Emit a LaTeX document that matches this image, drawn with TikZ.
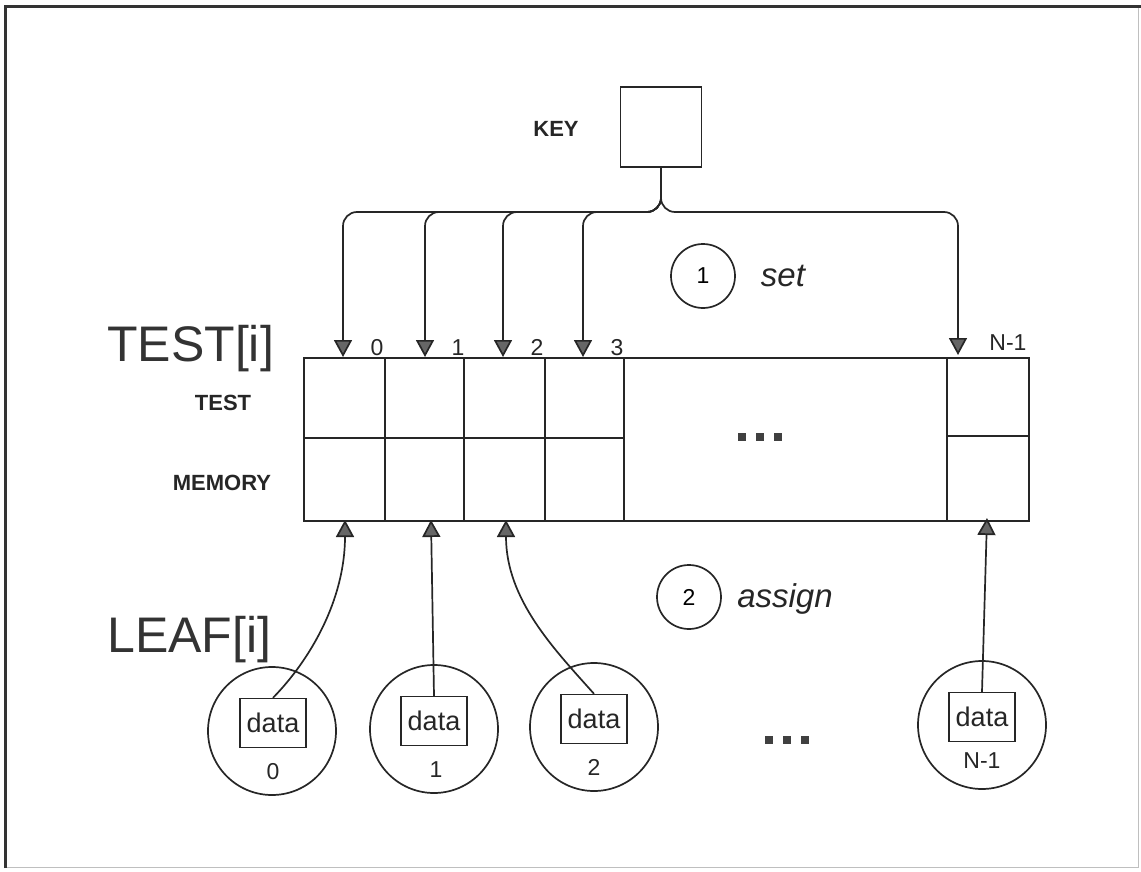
\documentclass[tikz,border=0pt]{standalone}
\usepackage{fontspec}
\setmainfont{Liberation Sans}
\usetikzlibrary{arrows.meta}
\begin{document}
\begin{tikzpicture}[x=1pt,y=-1pt,
  line/.style={line width=1.7pt, draw=black!85},
  arr/.style={line, -{Triangle[width=18pt,length=17pt,fill=black!60]}},
  lbl/.style={font=\fontsize{23}{27}\selectfont, inner sep=0pt, text=black!85},
  blbl/.style={lbl, font=\fontsize{22}{27}\selectfont\bfseries},
  big/.style={font=\fontsize{50}{56}\selectfont, inner sep=0pt, text=black!80},
  leaf/.style={circle, line, minimum size=128pt, inner sep=0pt},
  databox/.style={draw=black!85, line width=1.4pt, minimum width=66pt, minimum height=49pt, inner sep=0pt, font=\fontsize{27}{30}\selectfont, text=black!85},
  numcirc/.style={circle, line, minimum size=64pt, inner sep=0pt, font=\fontsize{23}{27}\selectfont},
  op/.style={font=\fontsize{33}{36}\selectfont\itshape, inner sep=0pt, text=black!85},
  dot/.style={fill=black!75, minimum size=8pt, inner sep=0pt}
]
\useasboundingbox (0,0) rectangle (1141,872);
% frame
\draw[line width=1pt, black!25] (1138,7) -- (1138,867) -- (5,867);
\draw[line width=3pt, black!80] (5,868) -- (5,7) -- (1141,7);

% key
\node[line, draw, minimum width=81pt, minimum height=80pt, inner sep=0pt] (key) at (661,127) {};
\node[blbl, anchor=base] (keylbl) at (556,137) {KEY};

% table
\node[line, draw, minimum width=725pt, minimum height=163pt, inner sep=0pt, anchor=north west] (table) at (303,357) {};
\foreach \x in {385,464,545,624,947} \draw[line] (\x,357) -- (\x,520);
\draw[line] (303,438) -- (624,438);
\draw[line] (947,436) -- (1028,436);
\node[dot] (e1) at (742,437) {};
\node[dot] (e2) at (760,437) {};
\node[dot] (e3) at (778,437) {};

% labels left
\node[big, anchor=base west] (testi) at (107,361) {TEST[i]};
\node[big, anchor=base west] (leafi) at (107,652) {LEAF[i]};
\node[blbl, anchor=base] (testlbl) at (223,410) {TEST};
\node[blbl, anchor=base] (memlbl) at (222,490) {MEMORY};

% index labels
\node[lbl, anchor=base] (i0) at (377,355) {0};
\node[lbl, anchor=base] (i1) at (458,355) {1};
\node[lbl, anchor=base] (i2) at (537,355) {2};
\node[lbl, anchor=base] (i3) at (617,355) {3};
\node[lbl, anchor=base] (iN) at (1008,350) {N-1};

% top targets
\coordinate (t0) at (343,357);
\coordinate (t1) at (425,357);
\coordinate (t2) at (503,357);
\coordinate (t3) at (583,357);
\coordinate (t4) at (958,355);

\foreach \t/\x in {t0/343,t1/425,t2/503,t3/583}
  \draw[arr, rounded corners=14pt] (key.south) -- (661,212) -- (\x,212) -- (\t);
\draw[arr, rounded corners=14pt] (key.south) -- (661,212) -- (958,212) -- (t4);

% step markers
\node[numcirc] (s1) at (703,276) {1};
\node[op, anchor=base] (set) at (783,286) {set};
\node[numcirc] (s2) at (689,597) {2};
\node[op, anchor=base] (assign) at (785,607) {assign};

% leaves
\node[leaf] (l0) at (272,731) {};
\node[leaf] (l1) at (434,729) {};
\node[leaf] (l2) at (594,727) {};
\node[leaf] (lN) at (982,725) {};
\node[databox] (d0) at (273,723) {data};
\node[databox] (d1) at (434,721) {data};
\node[databox] (d2) at (594,719) {data};
\node[databox] (dN) at (982,717) {data};
\node[lbl, anchor=base] (n0) at (273,779) {0};
\node[lbl, anchor=base] (n1) at (436,777) {1};
\node[lbl, anchor=base] (n2) at (594,775) {2};
\node[lbl, anchor=base] (nN) at (982,768) {N-1};
\node[dot] (f1) at (769,740) {};
\node[dot] (f2) at (787,740) {};
\node[dot] (f3) at (805,740) {};

% bottom targets
\coordinate (b0) at (345,520);
\coordinate (b1) at (431,520);
\coordinate (b2) at (506,520);
\coordinate (b3) at (987,518);

\draw[arr] (d0.north) .. controls (310,660) and (345,600) .. (b0);
\draw[arr] (d1.north) -- (b1);
\draw[arr] (d2.north) .. controls (555,650) and (506,600) .. (b2);
\draw[arr] (dN.north) -- (b3);
\end{tikzpicture}
\end{document}
